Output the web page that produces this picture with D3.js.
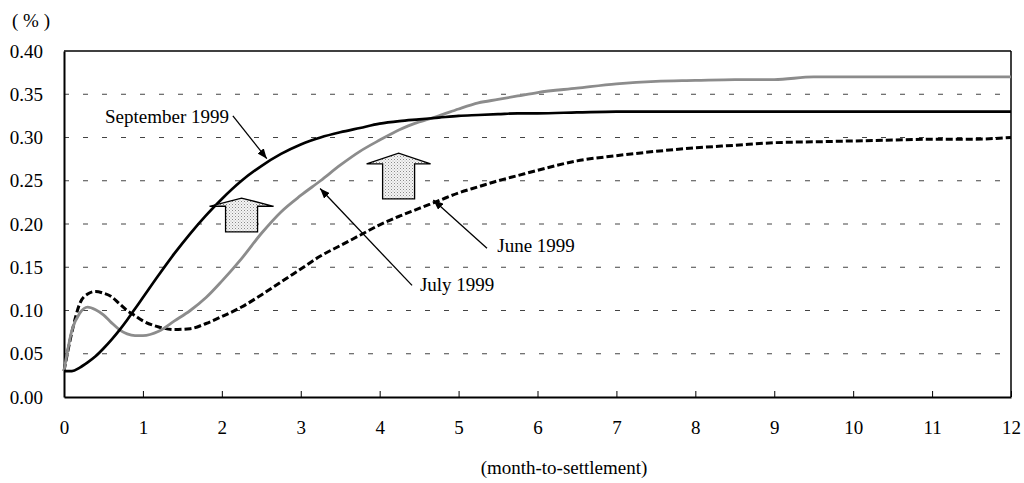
<!DOCTYPE html>
<html>
<head>
<meta charset="utf-8">
<script src="https://cdn.jsdelivr.net/npm/d3@7"></script>
<style>
  body { margin: 0; background: #fff; }
  svg text { font-family: "Liberation Serif", "Times New Roman", serif !important; fill: #000; }
</style>
</head>
<body>
<div id="my_dataviz"></div>
<script>
// data
var months = [0, 0.1, 0.2, 0.3, 0.4, 0.5, 0.6, 0.7, 0.8, 0.9, 1.0, 1.2, 1.4, 1.6, 1.8, 2.0,
  2.25, 2.5, 2.75, 3.0, 3.25, 3.5, 3.75, 4.0, 4.25, 4.5, 4.75, 5.0, 5.25, 5.5, 5.75, 6.0,
  6.5, 7.0, 7.5, 8.0, 8.5, 9.0, 9.5, 10.0, 10.5, 11.0, 11.5, 12.0];

var sep1999 = [0.030, 0.030, 0.034, 0.040, 0.047, 0.056, 0.066, 0.077, 0.089, 0.102, 0.115,
  0.141, 0.166, 0.189, 0.210, 0.229, 0.250, 0.267, 0.281, 0.292, 0.300, 0.306, 0.311, 0.316,
  0.319, 0.321, 0.323, 0.325, 0.326, 0.327, 0.328, 0.328, 0.329, 0.330, 0.330, 0.330, 0.330,
  0.330, 0.330, 0.330, 0.330, 0.330, 0.330, 0.330];

var jul1999 = [0.030, 0.077, 0.097, 0.104, 0.101, 0.095, 0.086, 0.078, 0.073, 0.071, 0.071,
  0.076, 0.088, 0.100, 0.115, 0.134, 0.160, 0.189, 0.214, 0.233, 0.250, 0.268, 0.284, 0.297,
  0.309, 0.318, 0.325, 0.333, 0.340, 0.344, 0.348, 0.352, 0.357, 0.362, 0.365, 0.366, 0.367,
  0.367, 0.370, 0.370, 0.370, 0.370, 0.370, 0.370];

var jun1999 = [0.030, 0.075, 0.108, 0.119, 0.122, 0.120, 0.116, 0.108, 0.100, 0.094, 0.088,
  0.081, 0.078, 0.079, 0.085, 0.093, 0.104, 0.118, 0.133, 0.148, 0.163, 0.175, 0.187, 0.199,
  0.209, 0.218, 0.227, 0.236, 0.243, 0.250, 0.256, 0.262, 0.273, 0.279, 0.284, 0.288, 0.291,
  0.294, 0.295, 0.296, 0.297, 0.298, 0.298, 0.300];

var xTicks = [0, 1, 2, 3, 4, 5, 6, 7, 8, 9, 10, 11, 12];
var yTicks = [0, 0.05, 0.10, 0.15, 0.20, 0.25, 0.30, 0.35, 0.40];
var gridTicks = [0.05, 0.10, 0.15, 0.20, 0.25, 0.30, 0.35];

var serif = "'Liberation Serif', 'Times New Roman', serif";

// set the dimensions and margins of the graph
var margin = {top: 51, right: 13, bottom: 86, left: 64},
    width = 1024 - margin.left - margin.right,
    height = 483 - margin.top - margin.bottom;

var svg = d3.select("#my_dataviz")
  .append("svg")
    .attr("width", width + margin.left + margin.right)
    .attr("height", height + margin.top + margin.bottom)
    .attr("font-family", serif)
  .append("g")
    .attr("transform", "translate(" + margin.left + "," + margin.top + ")");

var defs = svg.append("defs");
var pat = defs.append("pattern")
    .attr("id", "dots")
    .attr("width", 3).attr("height", 3)
    .attr("patternUnits", "userSpaceOnUse");
pat.append("rect").attr("width", 3).attr("height", 3).attr("fill", "#f4f4f4");
pat.append("rect").attr("width", 1).attr("height", 1).attr("fill", "#8a8a8a");
pat.append("rect").attr("x", 1.5).attr("y", 1.5).attr("width", 1).attr("height", 1).attr("fill", "#b0b0b0");

defs.append("marker")
    .attr("id", "head")
    .attr("markerUnits", "userSpaceOnUse")
    .attr("viewBox", "0 0 10 8")
    .attr("refX", 10).attr("refY", 4)
    .attr("markerWidth", 10).attr("markerHeight", 8)
    .attr("orient", "auto")
  .append("path")
    .attr("d", "M0,0 L10,4 L0,8 Z")
    .attr("fill", "#000");

var x = d3.scaleLinear().domain([0, 12]).range([0, width]);
var y = d3.scaleLinear().domain([0, 0.40]).range([height, 0]);

// grid
svg.append("g")
  .selectAll("line")
  .data(gridTicks)
  .enter()
  .append("line")
    .attr("x1", 0).attr("x2", width)
    .attr("y1", function(d) { return y(d); })
    .attr("y2", function(d) { return y(d); })
    .attr("stroke", "#444")
    .attr("stroke-width", 1)
    .attr("stroke-dasharray", "5,14");

// frame top / right
svg.append("line").attr("x1", 0).attr("x2", width).attr("y1", 0).attr("y2", 0)
  .attr("stroke", "#000").attr("stroke-width", 1.5);
svg.append("line").attr("x1", width).attr("x2", width).attr("y1", 0).attr("y2", height)
  .attr("stroke", "#000").attr("stroke-width", 1.5);

// X axis
var gx = svg.append("g")
  .attr("transform", "translate(0," + height + ")")
  .call(d3.axisBottom(x).tickValues(xTicks).tickSizeInner(-6).tickSizeOuter(0)
    .tickPadding(24).tickFormat(d3.format("d")))
  .attr("font-family", serif)
  .attr("font-size", 19);
gx.select(".domain").attr("stroke-width", 2);

// Y axis
var gy = svg.append("g")
  .call(d3.axisLeft(y).tickValues(yTicks).tickSize(0).tickPadding(21)
    .tickFormat(d3.format(".2f")))
  .attr("font-family", serif)
  .attr("font-size", 19);
gy.select(".domain").attr("stroke-width", 2);

// lines
var line = d3.line()
  .x(function(d) { return x(d.m); })
  .y(function(d) { return y(d.v); })
  .curve(d3.curveMonotoneX);

function toPts(vals) {
  return months.map(function(m, i) { return {m: m, v: vals[i]}; });
}

svg.append("path").datum(toPts(jun1999))
  .attr("d", line).attr("fill", "none")
  .attr("stroke", "#000").attr("stroke-width", 3).attr("stroke-dasharray", "7,3");
svg.append("path").datum(toPts(jul1999))
  .attr("d", line).attr("fill", "none")
  .attr("stroke", "#8c8c8c").attr("stroke-width", 2.8);
svg.append("path").datum(toPts(sep1999))
  .attr("d", line).attr("fill", "none")
  .attr("stroke", "#000").attr("stroke-width", 2.7);

// block up-arrows (month centre, base value, tip value)
var blockArrows = [
  {m: 2.25, base: 0.191, tip: 0.230, neck: 0.2205},
  {m: 4.24, base: 0.229, tip: 0.282, neck: 0.2695}
];
svg.append("g").selectAll("path")
  .data(blockArrows)
  .enter()
  .append("path")
    .attr("d", function(d) {
      var cx = x(d.m);
      return "M" + (cx - 16) + "," + y(d.base) +
        "L" + (cx - 16) + "," + y(d.neck) +
        "L" + (cx - 32) + "," + y(d.neck) +
        "L" + cx + "," + y(d.tip) +
        "L" + (cx + 32) + "," + y(d.neck) +
        "L" + (cx + 16) + "," + y(d.neck) +
        "L" + (cx + 16) + "," + y(d.base) + "Z";
    })
    .attr("fill", "url(#dots)")
    .attr("stroke", "#000")
    .attr("stroke-width", 1.3);

// labels with leader arrows
var labels = [
  {text: "September 1999", tm: 0.52, tv: 0.317, x1: 2.14, y1: 0.325, x2: 2.57, y2: 0.2755},
  {text: "July 1999", tm: 4.51, tv: 0.1225, x1: 4.41, y1: 0.129, x2: 3.245, y2: 0.241},
  {text: "June 1999", tm: 5.49, tv: 0.168, x1: 5.36, y1: 0.172, x2: 4.68, y2: 0.2277}
];
svg.append("g").selectAll("line")
  .data(labels)
  .enter()
  .append("line")
    .attr("x1", function(d) { return x(d.x1); })
    .attr("y1", function(d) { return y(d.y1); })
    .attr("x2", function(d) { return x(d.x2); })
    .attr("y2", function(d) { return y(d.y2); })
    .attr("stroke", "#000")
    .attr("stroke-width", 1.3)
    .attr("marker-end", "url(#head)");
svg.append("g").selectAll("text")
  .data(labels)
  .enter()
  .append("text")
    .attr("x", function(d) { return x(d.tm); })
    .attr("y", function(d) { return y(d.tv); })
    .attr("font-size", 19)
    .text(function(d) { return d.text; });

// unit + axis title
svg.append("text")
  .attr("x", 12 - margin.left)
  .attr("y", 27 - margin.top)
  .attr("font-size", 19)
  .text("( % )");

svg.append("text")
  .attr("x", 564 - margin.left)
  .attr("y", 474 - margin.top)
  .attr("text-anchor", "middle")
  .attr("font-size", 19)
  .text("(month-to-settlement)");
</script>
</body>
</html>
